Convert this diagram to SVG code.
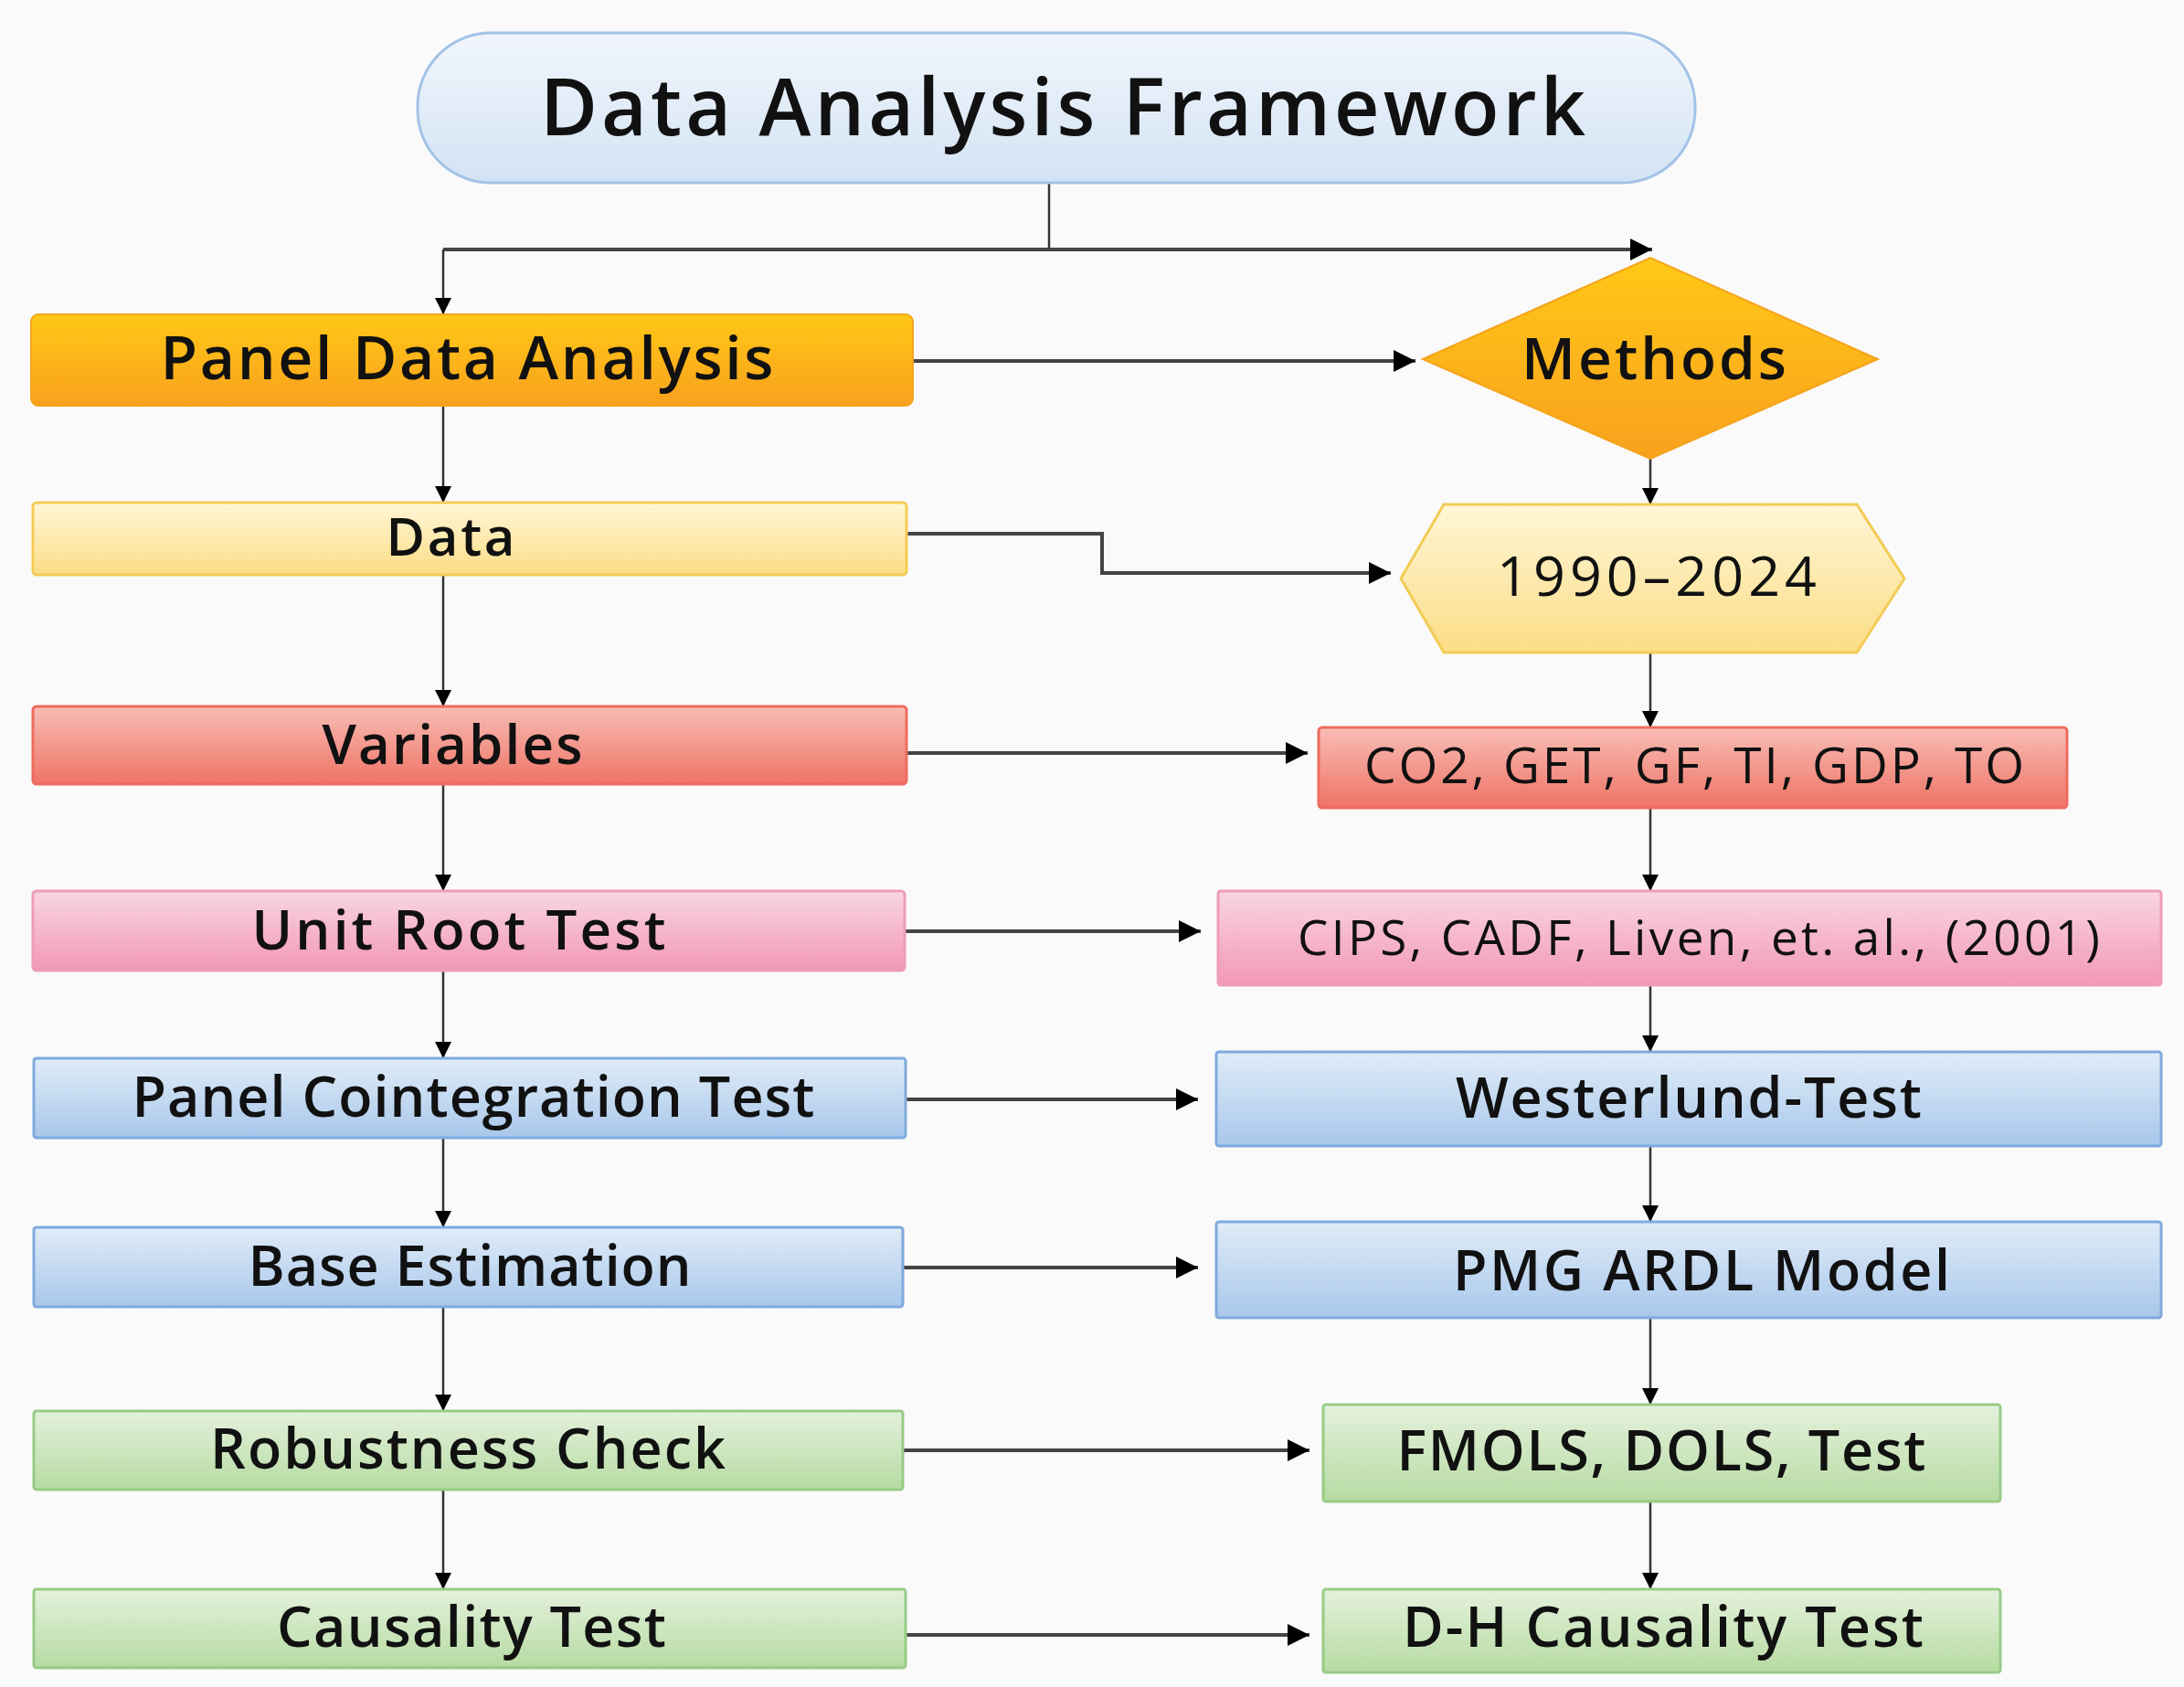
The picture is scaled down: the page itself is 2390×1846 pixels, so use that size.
<svg xmlns="http://www.w3.org/2000/svg" width="2390" height="1846" viewBox="0 0 2390 1846">
<style>
.t{font-family:"Open Sans","Noto Sans","Liberation Sans",sans-serif;font-weight:600;fill:#111;text-anchor:middle}
.r{font-weight:500}
.h{fill:none;stroke:#444;stroke-width:4}
.v{fill:none;stroke:#333;stroke-width:2.5}
</style>
<defs>
<linearGradient id="gTitle" x1="0" y1="0" x2="0" y2="1"><stop offset="0" stop-color="#F1F6FC"/><stop offset="1" stop-color="#D3E3F4"/></linearGradient>
<linearGradient id="gOrange" x1="0" y1="0" x2="0" y2="1"><stop offset="0" stop-color="#FFC816"/><stop offset="1" stop-color="#F9A11E"/></linearGradient>
<linearGradient id="gYellow" x1="0" y1="0" x2="0" y2="1"><stop offset="0" stop-color="#FFF6D6"/><stop offset="1" stop-color="#FCDD86"/></linearGradient>
<linearGradient id="gRed" x1="0" y1="0" x2="0" y2="1"><stop offset="0" stop-color="#F8BDB5"/><stop offset="1" stop-color="#EF7366"/></linearGradient>
<linearGradient id="gPink" x1="0" y1="0" x2="0" y2="1"><stop offset="0" stop-color="#F9D6E1"/><stop offset="1" stop-color="#F297B8"/></linearGradient>
<linearGradient id="gBlue" x1="0" y1="0" x2="0" y2="1"><stop offset="0" stop-color="#E0ECF8"/><stop offset="1" stop-color="#A8C7EB"/></linearGradient>
<linearGradient id="gGreen" x1="0" y1="0" x2="0" y2="1"><stop offset="0" stop-color="#E4F1DC"/><stop offset="1" stop-color="#B6DBA2"/></linearGradient>
<marker id="ah" viewBox="0 0 10 10" refX="10" refY="5" markerWidth="26" markerHeight="24" markerUnits="userSpaceOnUse" orient="auto"><path d="M0,0 L10,5 L0,10 z" fill="#000"/></marker>
<marker id="av" viewBox="0 0 10 10" refX="10" refY="5" markerWidth="20" markerHeight="18" markerUnits="userSpaceOnUse" orient="auto"><path d="M0,0 L10,5 L0,10 z" fill="#000"/></marker>
</defs>
<rect x="0" y="0" width="2390" height="1846" fill="#FAFAFA"/>

<g id="connectors">
<path class="v" d="M1148,200 V273"/>
<path class="h" d="M485,273 H1808" marker-end="url(#ah)"/>
<path class="v" d="M485,273 V344" marker-end="url(#av)"/>
<path class="h" d="M999,395 H1549" marker-end="url(#ah)"/>
<path class="v" d="M485,444 V550" marker-end="url(#av)"/>
<path class="h" d="M992,584 H1206 V627 H1522" marker-end="url(#ah)"/>
<path class="v" d="M485,629 V773" marker-end="url(#av)"/>
<path class="h" d="M992,824 H1431" marker-end="url(#ah)"/>
<path class="v" d="M485,858 V975" marker-end="url(#av)"/>
<path class="h" d="M990,1019 H1314" marker-end="url(#ah)"/>
<path class="v" d="M485,1062 V1158" marker-end="url(#av)"/>
<path class="h" d="M991,1203 H1311" marker-end="url(#ah)"/>
<path class="v" d="M485,1245 V1343" marker-end="url(#av)"/>
<path class="h" d="M988,1387 H1311" marker-end="url(#ah)"/>
<path class="v" d="M485,1430 V1544" marker-end="url(#av)"/>
<path class="h" d="M988,1587 H1433" marker-end="url(#ah)"/>
<path class="v" d="M485,1630 V1739" marker-end="url(#av)"/>
<path class="h" d="M991,1789 H1433" marker-end="url(#ah)"/>
<path class="v" d="M1806,502 V552" marker-end="url(#av)"/>
<path class="v" d="M1806,714 V796" marker-end="url(#av)"/>
<path class="v" d="M1806,884 V975" marker-end="url(#av)"/>
<path class="v" d="M1806,1078 V1151" marker-end="url(#av)"/>
<path class="v" d="M1806,1254 V1337" marker-end="url(#av)"/>
<path class="v" d="M1806,1442 V1537" marker-end="url(#av)"/>
<path class="v" d="M1806,1643 V1739" marker-end="url(#av)"/>
</g>

<g id="title">
<rect x="457" y="36" width="1398" height="164" rx="80" ry="80" fill="url(#gTitle)" stroke="#A3C3E6" stroke-width="3"/>
<text class="t" x="1163" y="148" font-size="86" font-weight="700" textLength="1144">Data Analysis Framework</text>
</g>

<g id="panel-data-analysis">
<rect x="34" y="344" width="965" height="100" rx="8" fill="url(#gOrange)" stroke="#F5A31C" stroke-width="2"/>
<text class="t" x="511" y="415" font-size="66" textLength="671">Panel Data Analysis</text>
</g>

<g id="methods">
<polygon points="1557,393 1806,282 2055,393 1806,502" fill="url(#gOrange)" stroke="#F5A31C" stroke-width="2"/>
<text class="t" x="1810" y="415" font-size="64" textLength="290">Methods</text>
</g>

<g id="data">
<rect x="36" y="550" width="956" height="79" rx="4" fill="url(#gYellow)" stroke="#F3CB55" stroke-width="3"/>
<text class="t" x="493" y="608" font-size="58" textLength="141">Data</text>
</g>

<g id="years">
<polygon points="1533,633 1580,552 2032,552 2084,633 2032,714 1580,714" fill="url(#gYellow)" stroke="#F3CB55" stroke-width="3"/>
<text class="t r" x="1813" y="652" font-size="61" textLength="350">1990–2024</text>
</g>

<g id="variables">
<rect x="36" y="773" width="956" height="85" rx="4" fill="url(#gRed)" stroke="#EE6C5F" stroke-width="3"/>
<text class="t" x="495" y="836" font-size="60" textLength="285">Variables</text>
</g>

<g id="variables-list">
<rect x="1443" y="796" width="819" height="88" rx="4" fill="url(#gRed)" stroke="#EE6C5F" stroke-width="3"/>
<text class="t r" x="1854" y="857" font-size="55" textLength="722">CO2, GET, GF, TI, GDP, TO</text>
</g>

<g id="unit-root-test">
<rect x="36" y="975" width="954" height="87" rx="4" fill="url(#gPink)" stroke="#EE9CBA" stroke-width="3"/>
<text class="t" x="502" y="1039" font-size="60" textLength="453">Unit Root Test</text>
</g>

<g id="unit-root-methods">
<rect x="1333" y="975" width="1032" height="103" rx="3" fill="url(#gPink)" stroke="#EE9CBA" stroke-width="3"/>
<text class="t r" x="1859" y="1045" font-size="53" textLength="878">CIPS, CADF, Liven, et. al., (2001)</text>
</g>

<g id="panel-cointegration-test">
<rect x="37" y="1158" width="954" height="87" rx="3" fill="url(#gBlue)" stroke="#7FAADD" stroke-width="3"/>
<text class="t" x="518" y="1222" font-size="61" textLength="747">Panel Cointegration Test</text>
</g>

<g id="westerlund-test">
<rect x="1331" y="1151" width="1034" height="103" rx="3" fill="url(#gBlue)" stroke="#7FAADD" stroke-width="3"/>
<text class="t" x="1848" y="1223" font-size="61" textLength="510">Westerlund-Test</text>
</g>

<g id="base-estimation">
<rect x="37" y="1343" width="951" height="87" rx="3" fill="url(#gBlue)" stroke="#7FAADD" stroke-width="3"/>
<text class="t" x="514" y="1407" font-size="61" textLength="485">Base Estimation</text>
</g>

<g id="pmg-ardl-model">
<rect x="1331" y="1337" width="1034" height="105" rx="3" fill="url(#gBlue)" stroke="#7FAADD" stroke-width="3"/>
<text class="t" x="1862" y="1412" font-size="61" textLength="544">PMG ARDL Model</text>
</g>

<g id="robustness-check">
<rect x="37" y="1544" width="951" height="86" rx="3" fill="url(#gGreen)" stroke="#98CB86" stroke-width="3"/>
<text class="t" x="512" y="1607" font-size="61" textLength="564">Robustness Check</text>
</g>

<g id="fmols-dols-test">
<rect x="1448" y="1537" width="741" height="106" rx="3" fill="url(#gGreen)" stroke="#98CB86" stroke-width="3"/>
<text class="t" x="1818" y="1609" font-size="61" textLength="579">FMOLS, DOLS, Test</text>
</g>

<g id="causality-test">
<rect x="37" y="1739" width="954" height="86" rx="3" fill="url(#gGreen)" stroke="#98CB86" stroke-width="3"/>
<text class="t" x="516" y="1802" font-size="61" textLength="426">Causality Test</text>
</g>

<g id="dh-causality-test">
<rect x="1448" y="1739" width="741" height="91" rx="3" fill="url(#gGreen)" stroke="#98CB86" stroke-width="3"/>
<text class="t" x="1820" y="1802" font-size="61" textLength="570">D-H Causality Test</text>
</g>
</svg>
